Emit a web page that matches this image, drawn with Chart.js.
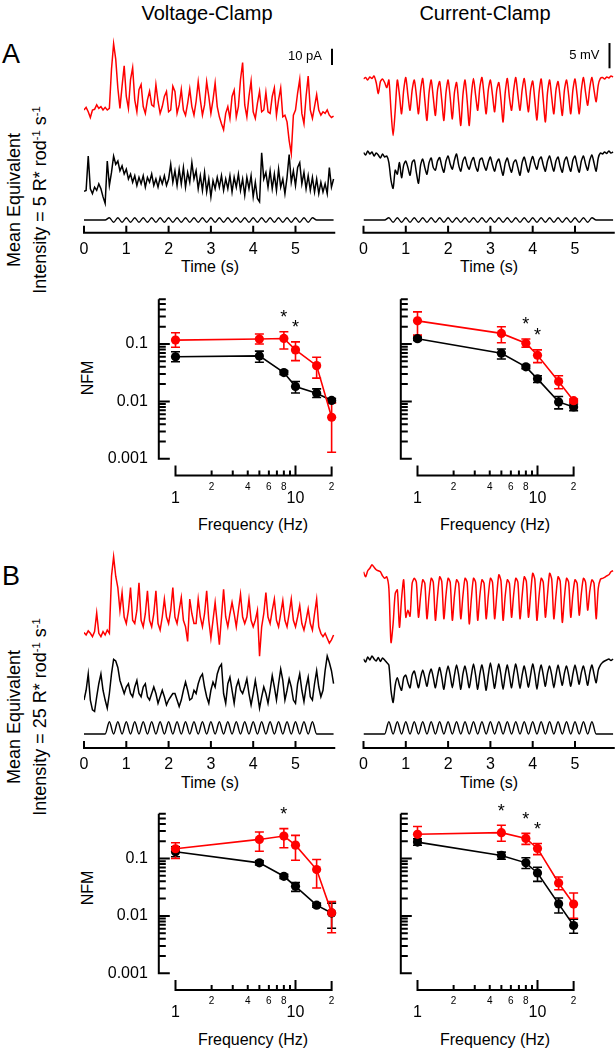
<!DOCTYPE html>
<html><head><meta charset="utf-8">
<script src="https://cdn.jsdelivr.net/npm/chart.js@4.4.1/dist/chart.umd.min.js"></script>
<style>
html,body{margin:0;padding:0;background:#fff;}
body{width:615px;height:1050px;position:relative;overflow:hidden;font-family:"Liberation Sans",Arial,sans-serif;color:#000;}
canvas{position:absolute;left:0;top:0;}
.t{position:absolute;white-space:nowrap;line-height:1;transform:translate(-50%,-50%);}
.rot{transform:translate(-50%,-50%) rotate(-90deg);text-align:center;}
.sup{font-size:0.62em;position:relative;top:-0.55em;}
</style></head><body>
<div class="t" style="left:207px;top:13px;font-size:20px">Voltage-Clamp</div>
<div class="t" style="left:485px;top:13px;font-size:20px">Current-Clamp</div>
<div class="t" style="left:11px;top:54px;font-size:27px">A</div>
<div class="t" style="left:11px;top:576px;font-size:27px">B</div>
<div class="t rot" style="left:28px;top:200px;font-size:18px;line-height:26px">Mean Equivalent<br>Intensity = 5 R* rod<span class="sup">-1</span> s<span class="sup">-1</span></div>
<div class="t rot" style="left:28px;top:717px;font-size:18px;line-height:26px">Mean Equivalent<br>Intensity = 25 R* rod<span class="sup">-1</span> s<span class="sup">-1</span></div>
<div class="t" style="left:210px;top:267px;font-size:16px">Time (s)</div>
<div class="t" style="left:489px;top:267px;font-size:16px">Time (s)</div>
<div class="t" style="left:210px;top:783px;font-size:16px">Time (s)</div>
<div class="t" style="left:489px;top:783px;font-size:16px">Time (s)</div>
<div class="t rot" style="left:88px;top:378px;font-size:16px">NFM</div>
<div class="t rot" style="left:88px;top:888px;font-size:16px">NFM</div>
<div class="t" style="left:253px;top:525px;font-size:16px">Frequency (Hz)</div>
<div class="t" style="left:495px;top:525px;font-size:16px">Frequency (Hz)</div>
<div class="t" style="left:253px;top:1040px;font-size:16px">Frequency (Hz)</div>
<div class="t" style="left:495px;top:1040px;font-size:16px">Frequency (Hz)</div>
<canvas id="c1" width="615" height="1050"></canvas>
<canvas id="c2" width="615" height="1050"></canvas>
<canvas id="c3" width="615" height="1050"></canvas>
<canvas id="c4" width="615" height="1050"></canvas>
<canvas id="c5" width="615" height="1050"></canvas>
<canvas id="c6" width="615" height="1050"></canvas>
<canvas id="c7" width="615" height="1050"></canvas>
<canvas id="c8" width="615" height="1050"></canvas>
<script>
// ================= DATA =================
// time ticks (s) and sample spacing of the traces
const timeTicks = [0, 1, 2, 3, 4, 5];
const traceDt = 0.05;   // s between trace samples
const stimDt = 0.1;     // s between stimulus samples

// Panel A, voltage clamp (pA, relative to baseline)
const A_VC_red = [-0.6,1.0,-1.7,-5.2,-0.6,-0.2,2.5,0.4,1.5,-0.6,1.0,-0.6,0.4,24.4,40,30.6,12.9,0.4,14,26.5,7.7,0.4,18.1,25.4,5.6,-1.7,11.9,15,1.5,-2.7,5.6,10.8,2.5,1.5,15,4.6,-2.7,1.5,7.7,10.8,-1.7,-0.6,14,10.8,-2.7,2.5,11.9,-0.6,-3.8,3.5,12.3,1.5,-3.8,4.6,16.7,5.6,-3.8,2.5,16.7,7.7,-2.7,5.6,16,1.5,-4.8,-9,-12.7,-2.7,1.5,-5.8,7.7,11.5,-4.8,1.5,18.1,28.5,2.5,-4.8,7.7,17.1,-1.7,-5.8,3.5,10.8,-1.7,-0.6,10.2,-1.7,-2.7,7.7,12.9,-3.8,5.6,12.9,-4.8,-3.8,-7.9,-19.4,-27.3,-3.8,-0.6,9.8,18.1,-2.7,-9,7.7,20.2,-0.6,-5.8,1.5,8.8,-0.6,-3.8,-1.7,-2.7,-0.6,-3.8,-5.2,-4.4];
const A_VC_black = [0.5,1,22,2,-1,3,1,5,2,-3,-7,19,4,12,22,17,19,13,16,11,14,8,11,6,10,4,9,5,10,3,9,6,11,4,8,3,9,5,10,4,8,17,6,13,4,14,5,15,3,12,6,18,8,13,2,10,1,12,0,8,-3,7,2,9,3,10,1,8,2,10,0,9,3,11,1,8,-2,9,2,10,-3,6,-4,-6,24,8,12,3,13,2,11,1,14,3,8,-1,9,23,6,13,4,15,18,5,12,2,10,1,9,0,8,-1,6,0,5,-1,15,3,8];
// Panel A, current clamp (mV, relative to baseline)
const A_CC_red = [0.2,0.5,0,0.6,0.3,0.8,-0.5,-2.7,-0.3,0.2,-0.5,-1.5,0,-6,-11,-6,0,-3,-6.7,-2,0.5,-3,-6,-2,0,-3,-6.7,-2,0.3,-4,-8,-2.5,0,-3.5,-7,-2,-0.3,-4,-8,-2.5,0,-3.5,-7.7,-2.5,-0.5,-4.5,-9,-3,0,-4,-9,-3,0.3,-3,-6,-1.5,0.5,-3,-6.7,-2,0,-3,-6.3,-2,-0.5,-4,-8.3,-2.5,0.3,-3.5,-6,-2,0.5,-3,-6,-2,0.3,-3,-6.3,-2,-0.2,-4,-7.9,-2.5,0.2,-4,-8.3,-2.5,0,-3.5,-6.7,-2,-0.3,-3.5,-7,-2,0,-3,-6.7,-2,0.2,-3,-6.7,-2,0.5,-2.5,-5,-1.5,0.5,-2,-4.3,-1,0.3,0.5,0.2,0.6,0.4,0.8,0.6];
const A_CC_black = [0.5,0,0.8,0.2,0.6,-0.2,0.4,0,-0.6,0.2,-0.4,-0.2,-1.5,-5,-6.6,-3,-3.8,-1.5,-4.5,-2,-1.2,-2.5,-4,-1.5,-1,-3.5,-5.6,-2,-0.8,-2.5,-3.8,-1.5,-0.6,-2.5,-3,-1.2,-0.5,-2.2,-3.4,-1.2,-0.2,-1.8,-2.8,-1,0.2,-2,-3.2,-1.2,-0.4,-2,-2.8,-1.3,-0.5,-2.2,-3.2,-1,-0.6,-2,-3,-1.4,-0.4,-2,-3.2,-1.5,-0.8,-2.5,-4,-1.6,-0.6,-2.2,-3.4,-1.5,-1,-2.5,-4,-1.5,-0.4,-2,-3.4,-1.5,-0.3,-1.8,-2.8,-1,-0.4,-2,-3.2,-1.2,-0.2,-1.8,-3.2,-1.2,-0.4,-2.2,-3.4,-1.2,-0.4,-2,-3.2,-1,-0.2,-2,-3.4,-1.2,-0.2,-1.8,-3,-1,0,-1.6,-3.2,-0.6,0.4,0.2,0.6,0.3,0.8,0.4,0.6];
// Panel B, voltage clamp (pA)
const B_VC_red = [0.5,-1,1.5,0,-2,1,12.5,0,-2,1,-1,2,0,35,47,35,28,14,25,10,6,14,28,8,6,14,31,8,4,12,26,8,4,12,26,6,2,10,21,10,6,14,28,10,6,14,22,8,4,-5,21,12,6,6,21,10,4,12,26,8,-3,8,19,6,-7,10,27,10,4,12,19,12,4,14,24,10,6,10,21,8,4,8,14,-14,4,12,25,10,6,14,21,8,4,12,20,8,4,12,21,8,4,10,17,6,2,8,15,6,2,12,21,4,0,-2,0,-3,-6,-4,-1];
const B_VC_black = [2,8,18,2,-4,-5,4,12,18,8,2,-3,6,18,27,26,22,14,10,6,10,12,6,4,10,14,6,4,10,12,4,2,6,10,6,0,4,8,4,-1,2,4,6,6,2,-2,2,8,13,8,2,3,8,6,12,16,18,10,4,0,8,13,10,18,22,24,6,0,12,16,8,0,10,14,8,6,10,15,6,-1,6,14,6,-3,4,10,6,0,8,17,10,2,12,21,14,2,8,15,10,2,0,12,18,8,1,10,16,4,2,12,20,10,4,8,20,29,25,20,12];
// Panel B, current clamp (mV)
const B_CC_red = [0.3,-0.7,0.5,1.0,1.7,1.2,0.7,0.5,0.3,-0.5,-1,-0.7,-3,-13.7,-10,-4,-3.3,-10.7,-5,-1.3,-8.7,-7.3,-8.5,-2,-1,-1.8,-8.7,-4.5,-1.3,-2,-9,-4.5,-1,-1.8,-9.3,-4.5,-0.7,-1.6,-9,-4.3,-1,-1.8,-9.3,-4.5,-1.3,-2,-9,-4.5,-1,-1.8,-10,-5,-1,-1.8,-9.3,-4.5,-1.3,-2,-9,-4.5,-1,-1.8,-9,-4.3,-0.3,-1.5,-9.3,-4.5,-1.3,-2,-8.7,-4.2,-1,-1.8,-9,-4.5,-0.7,-1.6,-8.7,-4.2,0,-1.2,-9.3,-4.5,-1,-1.8,-8.7,-4.2,0,-1.2,-9,-4.4,-0.7,-1.6,-9.7,-4.8,-1,-1.8,-8.7,-4.2,-1.3,-2,-8.3,-4,-1,-1.8,-7.3,-3.5,-1.3,-2,-9,-3,-1.2,-1,-0.8,-0.5,-0.3,0.3,0.5];
const B_CC_black = [0.2,-0.4,0.6,0,0.8,0.2,-0.2,0.5,-0.3,0.4,0,-0.5,-1,-6,-8.4,-5,-3.5,-5,-6,-3.5,-3,-4.5,-5.5,-3,-2.2,-3.8,-5.5,-3.5,-2,-3.5,-5.2,-3,-1.8,-3.5,-5.5,-3.2,-1.5,-3.5,-5.8,-3,-1.2,-3,-5.5,-3,-1,-3,-5.8,-2.8,-1.2,-3.2,-5.5,-3,-0.8,-3,-5.8,-2.8,-1,-3.2,-6,-3,-0.6,-3,-5.6,-2.8,-0.8,-3,-5.8,-3,-1,-3.2,-5.5,-2.8,-0.8,-3,-5.6,-3,-1.2,-3.2,-5.4,-3,-0.8,-2.8,-5.8,-2.8,-1,-3,-5.2,-2.6,-1.2,-3,-5.5,-3,-1,-3,-5,-2.6,-1.2,-3,-5.2,-2.8,-1,-2.8,-4.8,-2.5,-1.2,-3,-5,-2.5,-1,-2.8,-4.5,-2,-1,-0.5,-0.2,0,0.2,-0.1,0.2];
// Light stimulus (relative modulation), sampled every 0.1 s
const stimA = [0,0,0,0,0,0,1,-1,1,-1,1,-1,1,-1,1,-1,1,-1,1,-1,1,-1,1,-1,1,-1,1,-1,1,-1,1,-1,1,-1,1,-1,1,-1,1,-1,1,-1,1,-1,1,-1,1,-1,1,-1,1,-1,1,-1,1,0,0,0,0,0];
const stimB = [0,0,0,0,0,0,1,0,1,0,1,0,1,0,1,0,1,0,1,0,1,0,1,0,1,0,1,0,1,0,1,0,1,0,1,0,1,0,1,0,1,0,1,0,1,0,1,0,1,0,1,0,1,0,1,0,0,0,0,0];

// NFM vs frequency
const freqHz = [1, 5, 8, 10, 15, 20];
const A_VC_nfmRed = [0.117,0.122,0.125,0.079,0.042,0.0053];
const A_VC_nfmRedHi = [0.157,0.149,0.163,0.109,0.0588,0.0094];
const A_VC_nfmRedLo = [0.088,0.100,0.082,0.0514,0.0254,0.0013];
const A_VC_nfmBlack = [0.060,0.062,0.0318,0.0182,0.0139,0.0104];
const A_VC_nfmBlackHi = [0.0735,0.075,0.034,0.0222,0.0165,0.0112];
const A_VC_nfmBlackLo = [0.049,0.048,0.0295,0.0140,0.0117,0.0096];
const A_CC_nfmRed = [0.253,0.153,0.103,0.0637,0.0222,0.0103];
const A_CC_nfmRedHi = [0.363,0.200,0.122,0.079,0.0279,0.0110];
const A_CC_nfmRedLo = [0.143,0.105,0.088,0.0474,0.0166,0.0096];
const A_CC_nfmBlack = [0.1236,0.069,0.040,0.0247,0.0098,0.0080];
const A_CC_nfmBlackHi = [0.132,0.082,0.043,0.028,0.0122,0.0090];
const A_CC_nfmBlackLo = [0.115,0.0549,0.037,0.0214,0.0074,0.0069];
const B_VC_nfmRed = [0.148,0.215,0.246,0.171,0.0641,0.0114];
const B_VC_nfmRedHi = [0.188,0.289,0.332,0.253,0.096,0.0178];
const B_VC_nfmRedLo = [0.100,0.134,0.154,0.0934,0.0306,0.0051];
const B_VC_nfmBlack = [0.131,0.084,0.049,0.0327,0.0154,0.0112];
const B_VC_nfmBlackHi = [0.160,0.091,0.053,0.038,0.0167,0.0167];
const B_VC_nfmBlackLo = [0.107,0.077,0.045,0.0267,0.0142,0.0061];
const B_CC_nfmRed = [0.264,0.282,0.224,0.1497,0.0375,0.0161];
const B_CC_nfmRedHi = [0.36,0.379,0.274,0.183,0.0477,0.025];
const B_CC_nfmRedLo = [0.20,0.20,0.176,0.117,0.0286,0.0091];
const B_CC_nfmBlack = [0.193,0.113,0.084,0.056,0.0162,0.0068];
const B_CC_nfmBlackHi = [0.22,0.129,0.103,0.0704,0.0205,0.0088];
const B_CC_nfmBlackLo = [0.17,0.097,0.0668,0.040,0.0112,0.0050];
// frequencies marked significant (*)
const A_VC_sig = [8, 10];
const A_CC_sig = [8, 10];
const B_VC_sig = [8];
const B_CC_sig = [5, 8, 10];
// axis ticks
const yDecades = [0.001, 0.01, 0.1];
const yTickLabels = ['0.001', '0.01', '0.1'];
const yMin = 0.001, yMax = 0.6;
const xMinorTicks = [2, 3, 4, 5, 6, 7, 8, 9, 20];
const xSmallTicks = [2, 4, 6, 8, 20];
const xSmallLabels = ['2', '4', '6', '8', '2'];
const xBigTicks = [1, 10];
const xBigLabels = ['1', '10'];

// ================= DRAWING =================
const FONT = '"Liberation Sans", Arial, sans-serif';
const RED = '#ff0000';
const PX_PER_S = 42.3, T_MAX = 5.94;

function toXY(vals, dt) { return vals.map((v, i) => ({ x: Math.round(i * dt * 100) / 100, y: v })); }

function traceChart(id, p) {
  const left = p.x0, right = p.x0 + T_MAX * PX_PER_S;
  const ysc = (base, k) => ({ display: false, min: -(p.yBot - base) / k, max: (base - p.yTop) / k });
  const axisPlugin = {
    id: 'timeaxis' + id,
    afterDraw(chart) {
      const ctx = chart.ctx, xs = chart.scales.x;
      ctx.save();
      ctx.strokeStyle = '#000'; ctx.lineWidth = 2; ctx.lineCap = 'butt';
      ctx.beginPath();
      ctx.moveTo(xs.getPixelForValue(0) - 1, p.axisY);
      ctx.lineTo(xs.getPixelForValue(T_MAX), p.axisY);
      timeTicks.forEach(t => { const x = xs.getPixelForValue(t); ctx.moveTo(x, p.axisY); ctx.lineTo(x, p.axisY - 7); });
      ctx.stroke();
      ctx.fillStyle = '#000'; ctx.font = '16px ' + FONT; ctx.textAlign = 'center'; ctx.textBaseline = 'middle';
      timeTicks.forEach(t => ctx.fillText(String(t), xs.getPixelForValue(t), p.axisY + 17));
      if (p.bar) {
        const ys = chart.scales.yR;
        const len = Math.abs(ys.getPixelForValue(0) - ys.getPixelForValue(p.bar.value));
        ctx.lineWidth = 2;
        ctx.beginPath(); ctx.moveTo(p.bar.x, p.bar.yBottom); ctx.lineTo(p.bar.x, p.bar.yBottom - len); ctx.stroke();
        ctx.font = '13px ' + FONT; ctx.textAlign = 'right';
        ctx.fillText(p.bar.label, p.bar.x - 10, p.bar.yBottom - len / 2);
      }
      ctx.restore();
    }
  };
  return new Chart(document.getElementById(id), {
    type: 'line',
    data: { datasets: [
      { data: toXY(p.red, traceDt), borderColor: RED, borderWidth: 1.5, yAxisID: 'yR', pointRadius: 0, tension: p.tension },
      { data: toXY(p.black, traceDt), borderColor: '#000', borderWidth: 1.5, yAxisID: 'yK', pointRadius: 0, tension: p.tension },
      { data: toXY(p.stim, stimDt), borderColor: '#000', borderWidth: 1.4, yAxisID: 'yS', pointRadius: 0, cubicInterpolationMode: 'monotone' }
    ] },
    options: {
      responsive: false, animation: false, events: [],
      layout: { padding: { left: left, right: 615 - right, top: p.yTop, bottom: 1050 - p.yBot } },
      plugins: { legend: { display: false }, tooltip: { enabled: false } },
      scales: {
        x: { type: 'linear', display: false, min: 0, max: T_MAX, bounds: 'data' },
        yR: ysc(p.redBase, p.k), yK: ysc(p.blackBase, p.k), yS: ysc(p.stimBase, p.stimK)
      }
    },
    plugins: [axisPlugin]
  });
}

function nfmChart(id, p) {
  const DEC_X = 120, DEC_Y = 57.4;
  const left = p.x1, right = p.x1 + DEC_X * Math.log10(20);
  const top = p.y01 - DEC_Y * Math.log10(yMax / 0.1), bot = p.y01 + DEC_Y * 2;
  const series = [
    { color: '#000', m: p.black, hi: p.blackHi, lo: p.blackLo },
    { color: RED, m: p.red, hi: p.redHi, lo: p.redLo }
  ];
  const plug = {
    id: 'nfm' + id,
    beforeDatasetsDraw(chart) {
      const ctx = chart.ctx, xs = chart.scales.x, ys = chart.scales.y;
      ctx.save(); ctx.lineWidth = 1.6;
      series.forEach(s => {
        ctx.strokeStyle = s.color;
        freqHz.forEach((f, i) => {
          const x = xs.getPixelForValue(f), a = ys.getPixelForValue(s.hi[i]), b = ys.getPixelForValue(s.lo[i]);
          ctx.beginPath();
          ctx.moveTo(x, a); ctx.lineTo(x, b);
          ctx.moveTo(x - 4.5, a); ctx.lineTo(x + 4.5, a);
          ctx.moveTo(x - 4.5, b); ctx.lineTo(x + 4.5, b);
          ctx.stroke();
        });
      });
      ctx.restore();
    },
    afterDraw(chart) {
      const ctx = chart.ctx, xs = chart.scales.x, ys = chart.scales.y;
      ctx.save(); ctx.strokeStyle = '#000'; ctx.fillStyle = '#000'; ctx.lineWidth = 2;
      // y axis (offset left of the first frequency)
      const ax = xs.getPixelForValue(1) - 16.7;
      ctx.beginPath();
      ctx.moveTo(ax, ys.getPixelForValue(yMax)); ctx.lineTo(ax, ys.getPixelForValue(yMin) + 1);
      yDecades.forEach(d => {
        for (let m = 1; m <= 9; m++) {
          const v = m * d; if (v > yMax * 1.0001) continue;
          const y = ys.getPixelForValue(v);
          ctx.moveTo(ax, y); ctx.lineTo(ax + (m === 1 ? 11 : 7), y);
        }
      });
      ctx.stroke();
      if (p.yLabels) {
        ctx.font = '16px ' + FONT; ctx.textAlign = 'right'; ctx.textBaseline = 'middle';
        yDecades.forEach((d, i) => ctx.fillText(yTickLabels[i], ax - 11, ys.getPixelForValue(d)));
      }
      // x axis (offset below)
      const ay = ys.getPixelForValue(yMin) + 16.7;
      ctx.beginPath();
      ctx.moveTo(xs.getPixelForValue(1) - 1, ay); ctx.lineTo(xs.getPixelForValue(20) + 1, ay);
      xBigTicks.forEach(f => { const x = xs.getPixelForValue(f); ctx.moveTo(x, ay); ctx.lineTo(x, ay - 10); });
      xMinorTicks.forEach(f => { const x = xs.getPixelForValue(f); ctx.moveTo(x, ay); ctx.lineTo(x, ay - (f === 20 ? 9 : 5)); });
      ctx.stroke();
      ctx.textAlign = 'center'; ctx.textBaseline = 'middle';
      ctx.font = '10px ' + FONT;
      xSmallTicks.forEach((f, i) => ctx.fillText(xSmallLabels[i], xs.getPixelForValue(f), ay + 11.5));
      ctx.font = '16px ' + FONT;
      xBigTicks.forEach((f, i) => ctx.fillText(xBigLabels[i], xs.getPixelForValue(f), ay + 23));
      // significance asterisks above the red error bars
      ctx.font = '18px ' + FONT; ctx.textBaseline = 'alphabetic';
      p.sig.forEach(f => {
        const i = freqHz.indexOf(f);
        ctx.fillText('*', xs.getPixelForValue(f), ys.getPixelForValue(p.redHi[i]) - 19 + 10.4);
      });
      ctx.restore();
    }
  };
  const mk = (vals, color) => ({ data: freqHz.map((f, i) => ({ x: f, y: vals[i] })), borderColor: color, backgroundColor: color,
    borderWidth: 1.6, pointRadius: 4.6, pointBorderWidth: 0, pointBackgroundColor: color, tension: 0 });
  return new Chart(document.getElementById(id), {
    type: 'line',
    data: { datasets: [mk(p.red, RED), mk(p.black, '#000')] },
    options: {
      responsive: false, animation: false, events: [],
      layout: { padding: { left: left, right: 615 - right, top: top, bottom: 1050 - bot } },
      plugins: { legend: { display: false }, tooltip: { enabled: false } },
      scales: {
        x: { type: 'logarithmic', display: false, min: 1, max: 20, bounds: 'data' },
        y: { type: 'logarithmic', display: false, min: yMin, max: yMax, bounds: 'data' }
      },
      clip: false
    },
    plugins: [plug]
  });
}

traceChart('c1', { x0: 84, yTop: 36, yBot: 231, red: A_VC_red, black: A_VC_black, stim: stimA, tension: 0,
  redBase: 109, blackBase: 192, k: 1.63, stimBase: 220, stimK: 2.3, axisY: 232.7,
  bar: { value: 10, label: '10 pA', x: 332, yBottom: 65 } });
traceChart('c2', { x0: 363.5, yTop: 36, yBot: 231, red: A_CC_red, black: A_CC_black, stim: stimA, tension: 0.25,
  redBase: 80, blackBase: 155, k: 5.05, stimBase: 220, stimK: 2.3, axisY: 232.7,
  bar: { value: 5, label: '5 mV', x: 609.5, yBottom: 68.3 } });
traceChart('c3', { x0: 84, yTop: 548, yBot: 746, red: B_VC_red, black: B_VC_black, stim: stimB, tension: 0,
  redBase: 633.3, blackBase: 703.3, k: 1.63, stimBase: 734, stimK: 12.3, axisY: 748 });
traceChart('c4', { x0: 363.5, yTop: 548, yBot: 746, red: B_CC_red, black: B_CC_black, stim: stimB, tension: 0.25,
  redBase: 573.3, blackBase: 660, k: 5.05, stimBase: 734, stimK: 12.3, axisY: 748 });

nfmChart('c5', { x1: 175.5, y01: 344, yLabels: true, sig: A_VC_sig,
  red: A_VC_nfmRed, redHi: A_VC_nfmRedHi, redLo: A_VC_nfmRedLo, black: A_VC_nfmBlack, blackHi: A_VC_nfmBlackHi, blackLo: A_VC_nfmBlackLo });
nfmChart('c6', { x1: 417.5, y01: 344, yLabels: false, sig: A_CC_sig,
  red: A_CC_nfmRed, redHi: A_CC_nfmRedHi, redLo: A_CC_nfmRedLo, black: A_CC_nfmBlack, blackHi: A_CC_nfmBlackHi, blackLo: A_CC_nfmBlackLo });
nfmChart('c7', { x1: 175.5, y01: 858.5, yLabels: true, sig: B_VC_sig,
  red: B_VC_nfmRed, redHi: B_VC_nfmRedHi, redLo: B_VC_nfmRedLo, black: B_VC_nfmBlack, blackHi: B_VC_nfmBlackHi, blackLo: B_VC_nfmBlackLo });
nfmChart('c8', { x1: 417.5, y01: 858.5, yLabels: false, sig: B_CC_sig,
  red: B_CC_nfmRed, redHi: B_CC_nfmRedHi, redLo: B_CC_nfmRedLo, black: B_CC_nfmBlack, blackHi: B_CC_nfmBlackHi, blackLo: B_CC_nfmBlackLo });
</script>
</body></html>
